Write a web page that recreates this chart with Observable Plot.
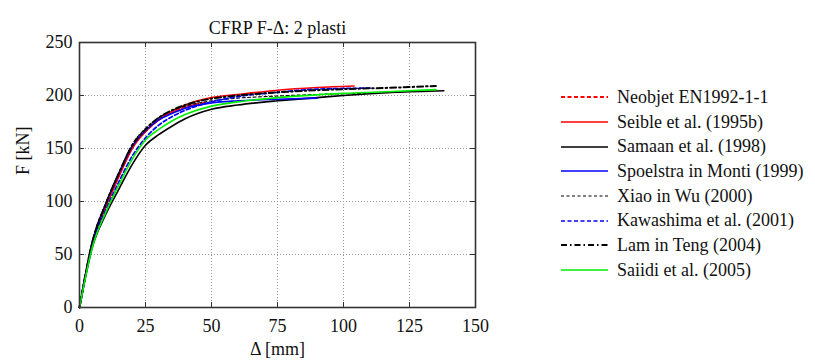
<!DOCTYPE html>
<html>
<head>
<meta charset="utf-8">
<script src="https://cdn.jsdelivr.net/npm/d3@7"></script>
<script src="https://cdn.jsdelivr.net/npm/@observablehq/plot@0.6"></script>
<style>
  html, body { margin: 0; padding: 0; background: #fff; }
  #wrap { position: relative; width: 815px; height: 363px; font-family: 'Liberation Serif', serif; }
  #legend { position: absolute; left: 558px; top: 85px; font-size: 18px; color: #111; font-family: 'Liberation Serif', serif; }
  .row { display: flex; align-items: center; height: 24.7px; }
  .row svg { margin-right: 9px; }
</style>
</head>
<body>
<div id="wrap"><div id="chart"></div><div id="legend"></div></div>
<script>
const title = "CFRP F-Δ: 2 plasti";
const xLabel = "Δ [mm]";
const yLabel = "F [kN]";
const xTicks = [0, 25, 50, 75, 100, 125, 150];
const yTicks = [0, 50, 100, 150, 200, 250];

const seriesNames = [
  "Neobjet EN1992-1-1",
  "Seible et al. (1995b)",
  "Samaan et al. (1998)",
  "Spoelstra in Monti (1999)",
  "Xiao in Wu (2000)",
  "Kawashima et al. (2001)",
  "Lam in Teng (2004)",
  "Saiidi et al. (2005)"
];

// [Δ mm, F kN]
const neobjet = [[0,0],[5,62],[10,96],[15,125],[20,151],[25,166],[30,177],[35,184],[40,189],[45,192],[48,193]];
const seible = [[0,0],[5,62],[10,95],[15,124],[20,150],[25,166],[30,177],[35,185],[40,191],[50,198],[60,201],[75,205],[90,207.5],[104,209]];
const samaan = [[0,0],[5,58],[10,88],[15,112],[20,135],[25,153],[30,163],[35,171],[40,178],[50,187],[60,191],[75,195],[90,198],[100,200],[120,203],[138,204.5]];
const spoelstra = [[0,0],[5,63],[10,98],[15,127],[20,152],[25,167],[30,177],[35,183],[40,188],[50,193],[60,195],[75,196.5],[90,197.5]];
const xiao = [[0,0],[5,64],[10,99],[15,128],[20,154],[25,169],[30,179],[35,186],[40,190],[50,195],[60,197.5],[75,199.5],[90,201],[111,202]];
const kawashima = [[0,0],[5,60],[10,92],[15,119],[20,143],[25,160],[30,172],[35,180],[40,186],[50,194],[60,199],[75,203],[90,206],[111,207]];
const lam = [[0,0],[5,63],[10,98],[15,127],[20,153],[25,168],[30,179],[35,186],[40,191],[50,197],[60,200],[75,203],[100,206],[120,207.5],[135,209]];
const saiidi = [[0,0],[5,58],[10,90],[15,116],[20,140],[25,158],[30,168],[35,176],[40,182],[50,190],[60,194],[75,198],[100,202],[120,204],[135,205.5]];

const seriesData = [neobjet, seible, samaan, spoelstra, xiao, kawashima, lam, saiidi];
const seriesColors = ["#ff0000", "#ff0000", "#000000", "#0000ff", "#000000", "#0000ff", "#000000", "#00ee00"];
const seriesDash = ["4,2.5", null, null, null, "3,2.5", "4,2.5", "6,3,1.5,3", null];
const seriesWidth = [2, 1.6, 1.6, 1.6, 1.1, 1.7, 2, 1.6];

const W = 815, H = 363;
const mL = 79, mR = 340, mT = 42, mB = 56;
const innerW = W - mL - mR, innerH = H - mT - mB;

const lineMarks = seriesData.map((data, i) =>
  Plot.line(data, {
    x: d => d[0], y: d => d[1],
    stroke: seriesColors[i], strokeWidth: seriesWidth[i],
    strokeDasharray: seriesDash[i] ?? undefined,
    curve: "monotone-x"
  })
);

const chart = Plot.plot({
  width: W, height: H,
  marginLeft: mL, marginRight: mR, marginTop: mT, marginBottom: mB,
  style: { fontFamily: "Liberation Serif", fontSize: "18px", color: "#111", background: "#fff" },
  x: { domain: [0, 150], axis: null },
  y: { domain: [0, 250], axis: null },
  marks: [
    Plot.ruleX(xTicks.slice(1, -1), { stroke: "#999", strokeDasharray: "1,2", strokeWidth: 1 }),
    Plot.ruleY(yTicks.slice(1, -1), { stroke: "#999", strokeDasharray: "1,2", strokeWidth: 1 }),
    Plot.tickX(xTicks, { x: d => d, insetTop: innerH - 5, stroke: "#333" }),
    Plot.tickX(xTicks, { x: d => d, insetBottom: innerH - 5, stroke: "#333" }),
    Plot.tickY(yTicks, { y: d => d, insetRight: innerW - 5, stroke: "#333" }),
    Plot.tickY(yTicks, { y: d => d, insetLeft: innerW - 5, stroke: "#333" }),
    ...lineMarks,
    Plot.frame({ stroke: "#333", strokeWidth: 1.6 }),
    Plot.axisX(xTicks, { tickSize: 0, tickPadding: 12, tickFormat: d => String(d) }),
    Plot.axisY(yTicks, { tickSize: 0, tickPadding: 7, tickFormat: d => String(d) }),
    Plot.text([xLabel], { frameAnchor: "bottom", dy: 47, fontSize: 18 }),
    Plot.text([yLabel], { frameAnchor: "left", rotate: -90, dx: -56, fontSize: 18 }),
    Plot.text([title], { frameAnchor: "top", dy: -21, fontSize: 18 })
  ]
});
document.getElementById("chart").appendChild(chart);

const legend = document.getElementById("legend");
seriesNames.forEach((name, i) => {
  const row = document.createElement("div");
  row.className = "row";
  const ns = "http://www.w3.org/2000/svg";
  const s = document.createElementNS(ns, "svg");
  s.setAttribute("width", 50); s.setAttribute("height", 10);
  const ln = document.createElementNS(ns, "line");
  ln.setAttribute("x1", 3); ln.setAttribute("x2", 50);
  ln.setAttribute("y1", 5); ln.setAttribute("y2", 5);
  ln.setAttribute("stroke", seriesColors[i]);
  ln.setAttribute("stroke-width", seriesWidth[i]);
  if (seriesDash[i]) ln.setAttribute("stroke-dasharray", seriesDash[i]);
  s.appendChild(ln);
  row.appendChild(s);
  const t = document.createElement("span");
  t.textContent = name;
  row.appendChild(t);
  legend.appendChild(row);
});
</script>
</body>
</html>
